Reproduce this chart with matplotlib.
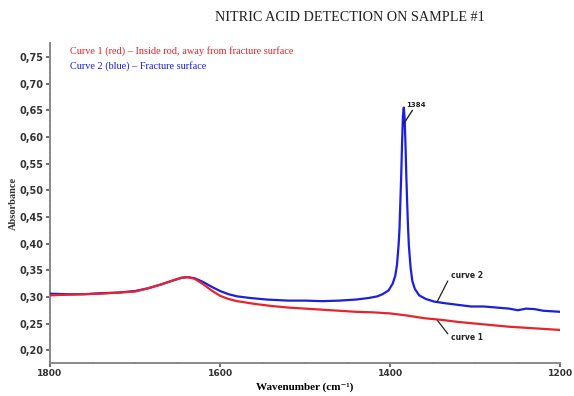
import matplotlib
matplotlib.use("Agg")
import matplotlib.pyplot as plt
from matplotlib.ticker import MultipleLocator, FuncFormatter

# ============================================================
# Data
# ============================================================
WN_BLUE = [1800, 1780, 1760, 1740, 1720, 1700, 1685, 1670, 1655, 1645, 1638,
           1630, 1620, 1610, 1600, 1590, 1580, 1565, 1545, 1520, 1500, 1480,
           1460, 1440, 1425, 1415, 1409, 1402, 1397, 1394, 1392, 1390, 1389,
           1388, 1387, 1386, 1385, 1384, 1383, 1382, 1381, 1380, 1379, 1378,
           1376, 1374, 1371, 1366, 1358, 1348, 1335, 1320, 1305, 1290, 1275,
           1260, 1250, 1240, 1230, 1220, 1210, 1200]
ABS_BLUE = [0.306, 0.305, 0.305, 0.307, 0.308, 0.311, 0.316, 0.323, 0.331,
            0.336, 0.337, 0.335, 0.328, 0.319, 0.311, 0.305, 0.301, 0.298,
            0.295, 0.293, 0.293, 0.292, 0.293, 0.295, 0.298, 0.301, 0.305,
            0.312, 0.325, 0.340, 0.360, 0.400, 0.430, 0.480, 0.530, 0.590,
            0.640, 0.655, 0.635, 0.585, 0.525, 0.475, 0.430, 0.395, 0.355,
            0.330, 0.315, 0.303, 0.296, 0.291, 0.288, 0.285, 0.282, 0.282,
            0.280, 0.278, 0.275, 0.278, 0.277, 0.274, 0.273, 0.272]

WN_RED = [1800, 1780, 1760, 1740, 1720, 1700, 1685, 1670, 1655, 1645, 1638,
          1630, 1620, 1610, 1600, 1590, 1580, 1560, 1540, 1520, 1500, 1480,
          1460, 1440, 1420, 1400, 1380, 1360, 1340, 1320, 1300, 1280, 1260,
          1240, 1220, 1200]
ABS_RED = [0.303, 0.304, 0.305, 0.306, 0.308, 0.310, 0.316, 0.323, 0.331,
           0.336, 0.337, 0.334, 0.324, 0.312, 0.302, 0.296, 0.292, 0.287,
           0.283, 0.280, 0.278, 0.276, 0.274, 0.272, 0.271, 0.269, 0.265,
           0.260, 0.257, 0.253, 0.250, 0.247, 0.244, 0.242, 0.240, 0.238]

PEAK_WN = 1384
PEAK_ABS = 0.655

TITLE = "NITRIC ACID DETECTION ON SAMPLE #1"
LEGEND_RED = "Curve 1 (red) \u2013 Inside rod, away from fracture surface"
LEGEND_BLUE = "Curve 2 (blue) \u2013 Fracture surface"

RED = "#e8232b"
BLUE = "#1c1ee0"
AXIS_GREY = "#8a8a8a"
SERIF = ["Liberation Serif", "DejaVu Serif"]

# ============================================================
# Figure
# ============================================================
fig = plt.figure(figsize=(5.74, 3.96), dpi=100)
ax = fig.add_axes([0.0871, 0.0833, 0.889, 0.808])

ax.plot(WN_BLUE, ABS_BLUE, color=BLUE, linewidth=1.6, zorder=3)
ax.plot(WN_RED, ABS_RED, color=RED, linewidth=1.6, zorder=4)

ax.set_xlim(1800, 1200)
ax.set_ylim(0.176, 0.776)

ax.xaxis.set_major_locator(MultipleLocator(200))
ax.xaxis.set_minor_locator(MultipleLocator(50))
ax.yaxis.set_major_locator(MultipleLocator(0.05))
ax.yaxis.set_minor_locator(MultipleLocator(0.01))
ax.yaxis.set_major_formatter(FuncFormatter(lambda v, p: f"{v:.2f}".replace(".", ",")))

for side in ["top", "right"]:
    ax.spines[side].set_visible(False)
for side in ["left", "bottom"]:
    ax.spines[side].set_color(AXIS_GREY)
    ax.spines[side].set_linewidth(1.4)

ax.tick_params(which="major", direction="out", length=3, width=1.2,
               color="#555555", labelsize=7, pad=1.5, labelcolor="#333333")
ax.tick_params(axis="x", which="major", labelsize=6.6)
ax.tick_params(which="minor", direction="inout", length=2, width=1.4,
               color="#555555")
for lab in ax.get_xticklabels() + ax.get_yticklabels():
    lab.set_fontweight("bold")
    lab.set_family("DejaVu Sans")

ax.set_xlabel("Wavenumber (cm\u207b\u00b9)", family=SERIF,
              fontweight="bold", fontsize=8, labelpad=3)
ax.set_ylabel("Absorbance", family=SERIF, fontweight="bold",
              fontsize=7.5, labelpad=1, color="#333333")

fig.text(0.61, 0.955, TITLE, family=SERIF, fontsize=10.2,
         ha="center", va="center", color="#222222")

ax.text(0.04, 0.975, LEGEND_RED, transform=ax.transAxes, color=RED,
        family=SERIF, fontsize=7.4, va="center")
ax.text(0.04, 0.928, LEGEND_BLUE, transform=ax.transAxes, color=BLUE,
        family=SERIF, fontsize=7.4, va="center")

# peak and curve annotations
ax.annotate(str(PEAK_WN), xy=(PEAK_WN, PEAK_ABS - 0.03),
            xytext=(PEAK_WN - 3, PEAK_ABS + 0.0), fontsize=5,
            fontweight="bold", color="#222222", va="bottom", ha="left",
            arrowprops=dict(arrowstyle="-", color="#222222", lw=1.0,
                            shrinkA=0, shrinkB=0))
ax.annotate("curve 2", xy=(1345, 0.290), xytext=(1329, 0.340),
            fontsize=5.5, fontweight="bold", color="#222222", va="center",
            arrowprops=dict(arrowstyle="-", color="#222222", lw=0.9,
                            shrinkA=0, shrinkB=0, relpos=(0, 0.5)))
ax.annotate("curve 1", xy=(1345, 0.257), xytext=(1329, 0.224),
            fontsize=5.5, fontweight="bold", color="#222222", va="center",
            arrowprops=dict(arrowstyle="-", color="#222222", lw=0.9,
                            shrinkA=0, shrinkB=0, relpos=(0, 0.5)))

fig.savefig("out.png", dpi=100)
